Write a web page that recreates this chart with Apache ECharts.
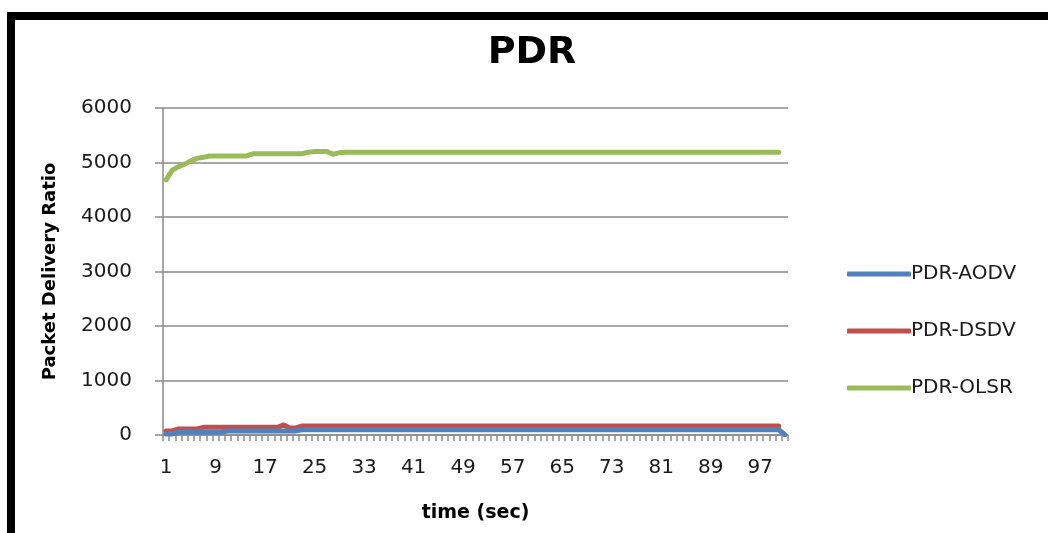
<!DOCTYPE html>
<html>
<head>
<meta charset="utf-8">
<script src="https://cdn.jsdelivr.net/npm/echarts@6/dist/echarts.min.js"></script>
<style>
html,body{margin:0;padding:0;background:#fff;}
#chart{width:1048px;height:533px;}
</style>
</head>
<body>
<div id="chart"></div>
<script>
const categories = [
  1,2,3,4,5,6,7,8,9,10,
  11,12,13,14,15,16,17,18,19,20,
  21,22,23,24,25,26,27,28,29,30,
  31,32,33,34,35,36,37,38,39,40,
  41,42,43,44,45,46,47,48,49,50,
  51,52,53,54,55,56,57,58,59,60,
  61,62,63,64,65,66,67,68,69,70,
  71,72,73,74,75,76,77,78,79,80,
  81,82,83,84,85,86,87,88,89,90,
  91,92,93,94,95,96,97,98,99,100,
  101
];
const pdrAODV = [
  20,20,50,50,50,50,50,50,50,50,
  75,75,75,75,75,75,75,75,75,75,
  75,75,95,95,95,95,95,95,95,95,
  95,95,95,95,95,95,95,95,95,95,
  95,95,95,95,95,95,95,95,95,95,
  95,95,95,95,95,95,95,95,95,95,
  95,95,95,95,95,95,95,95,95,95,
  95,95,95,95,95,95,95,95,95,95,
  95,95,95,95,95,95,95,95,95,95,
  95,95,95,95,95,95,95,95,95,95,
  5
];
const pdrDSDV = [
  75,75,110,110,110,110,140,140,140,140,
  140,140,140,140,140,140,140,140,140,185,
  130,130,165,165,165,165,165,165,165,165,
  165,165,165,165,165,165,165,165,165,165,
  165,165,165,165,165,165,165,165,165,165,
  165,165,165,165,165,165,165,165,165,165,
  165,165,165,165,165,165,165,165,165,165,
  165,165,165,165,165,165,165,165,165,165,
  165,165,165,165,165,165,165,165,165,165,
  165,165,165,165,165,165,165,165,165,165
];
const pdrOLSR = [
  4680,4860,4925,4970,5030,5075,5095,5120,5120,5120,
  5120,5120,5120,5120,5160,5160,5160,5160,5160,5160,
  5160,5160,5160,5190,5200,5200,5200,5150,5180,5190,
  5190,5190,5190,5190,5190,5190,5190,5190,5190,5190,
  5190,5190,5190,5190,5190,5190,5190,5190,5190,5190,
  5190,5190,5190,5190,5190,5190,5190,5190,5190,5190,
  5190,5190,5190,5190,5190,5190,5190,5190,5190,5190,
  5190,5190,5190,5190,5190,5190,5190,5190,5190,5190,
  5190,5190,5190,5190,5190,5190,5190,5190,5190,5190,
  5190,5190,5190,5190,5190,5190,5190,5190,5190,5190
];
const seriesNames = ['PDR-AODV','PDR-DSDV','PDR-OLSR'];
const seriesColors = ['#4F81BD','#C0504D','#9BBB59'];

const chart = echarts.init(document.getElementById('chart'));
const gridColor = '#8a8a8a';
const textColor = '#1a1a1a';
const font = 'DejaVu Sans';

chart.setOption({
  animation: false,
  backgroundColor: '#fff',
  title: {
    text: 'PDR',
    left: 527, textAlign: 'center',
    top: 29,
    textStyle: {fontFamily: font, fontWeight: 'bold', fontSize: 38, color: '#000'}
  },
  graphic: [{
    type: 'rect',
    shape: {x: 11, y: 16, width: 2000, height: 2000},
    style: {fill: 'none', stroke: '#000', lineWidth: 8},
    silent: true, z: 100
  }],
  legend: {
    orient: 'vertical',
    left: 842, top: 259,
    itemWidth: 64, itemHeight: 5,
    itemGap: 37,
    icon: 'roundRect',
    textStyle: {fontFamily: font, fontSize: 20, color: textColor, padding: [0,0,0,-5]},
    data: seriesNames
  },
  grid: {left: 163, right: 260, top: 108, bottom: 98, containLabel: false},
  xAxis: {
    type: 'category',
    data: categories,
    boundaryGap: true,
    name: 'time (sec)',
    nameLocation: 'middle',
    nameGap: 69,
    nameTextStyle: {fontFamily: font, fontWeight: 'bold', fontSize: 19, color: '#000'},
    axisLine: {show: true, lineStyle: {color: gridColor, width: 1.5}},
    axisTick: {show: true, interval: 0, length: 6, inside: false, lineStyle: {color: gridColor, width: 1.5}},
    axisLabel: {interval: 7, margin: 23, fontFamily: font, fontSize: 20, color: textColor},
    splitLine: {show: false}
  },
  yAxis: {
    type: 'value',
    min: 0, max: 6000, interval: 1000,
    name: 'Packet Delivery Ratio',
    nameLocation: 'middle',
    nameGap: 104,
    nameTextStyle: {fontFamily: font, fontWeight: 'bold', fontSize: 18, color: '#000'},
    axisLine: {show: true, lineStyle: {color: gridColor, width: 1.5}},
    axisTick: {show: true, length: 8, inside: false, lineStyle: {color: gridColor, width: 1.5}},
    axisLabel: {margin: 31, fontFamily: font, fontSize: 20, color: textColor, formatter: v => String(v)},
    splitLine: {show: true, lineStyle: {color: gridColor, width: 1.5}}
  },
  series: seriesNames.map((n, i) => ({
    name: n,
    type: 'line',
    data: [pdrAODV, pdrDSDV, pdrOLSR][i],
    symbol: 'none',
    color: seriesColors[i],
    lineStyle: {width: 5, color: seriesColors[i], cap: 'round', join: 'round'},
    z: 2 + (2 - i)
  }))
});
</script>
</body>
</html>
